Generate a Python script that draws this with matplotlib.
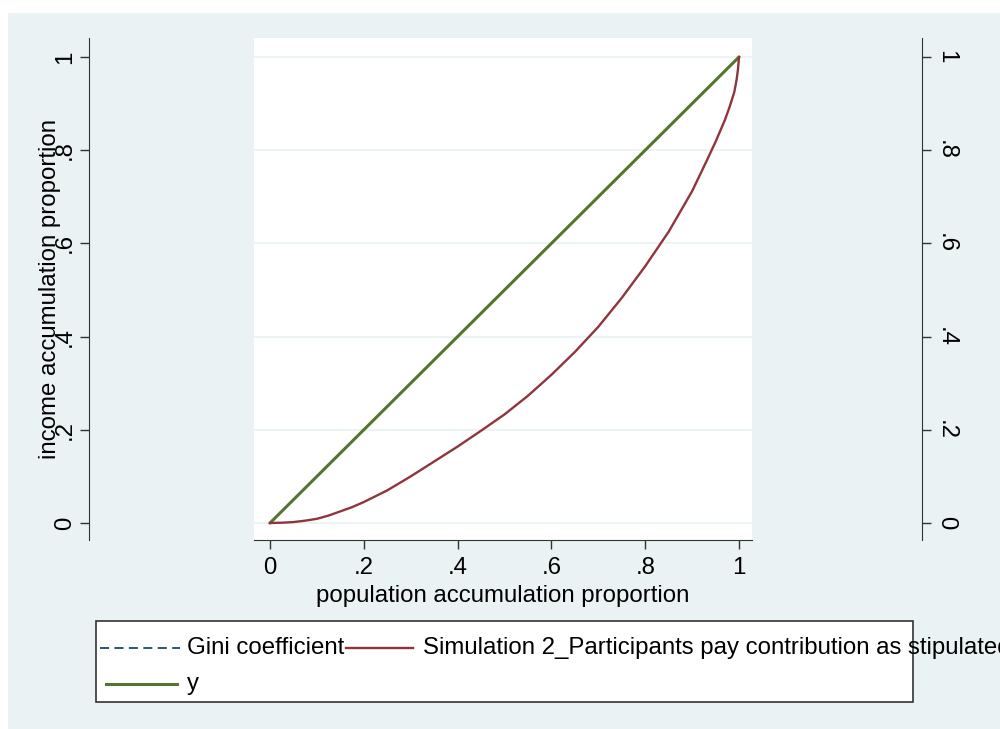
import numpy as np
import matplotlib
matplotlib.use('Agg')
import matplotlib.pyplot as plt
from matplotlib.patches import Rectangle
from matplotlib.lines import Line2D

plt.rcParams['font.family'] = ['Liberation Sans', 'DejaVu Sans']

# Lorenz curve
pop_share = [0, 0.025, 0.05, 0.075, 0.1, 0.125, 0.15, 0.175, 0.2, 0.25, 0.3, 0.35, 0.4, 0.45,
             0.5, 0.55, 0.6, 0.65, 0.7, 0.75, 0.8, 0.85, 0.9, 0.93, 0.95, 0.97, 0.98,
             0.99, 0.995, 0.998, 1.0]
income_share = [0, 0.0006, 0.002, 0.005, 0.009, 0.016, 0.025, 0.034, 0.045, 0.07, 0.10, 0.132,
                0.164, 0.198, 0.233, 0.273, 0.318, 0.367, 0.421, 0.483, 0.551, 0.625, 0.712,
                0.775, 0.818, 0.865, 0.893, 0.925, 0.952, 0.975, 1.0]
# line of equality
eq_x = [0, 1]
eq_y = [0, 1]

ticks = [0, 0.2, 0.4, 0.6, 0.8, 1.0]
tick_labels = ['0', '.2', '.4', '.6', '.8', '1']

legend_labels = ['Gini coefficient',
                 'Simulation 2_Participants pay contribution as stipulated',
                 'y']

BG = '#eaf2f3'
NAVY = '#1a476f'
RED = '#90353b'
GREEN = '#55752f'
AX = '#333333'
FS = 17.3

W, H = 1000, 729
fig = plt.figure(figsize=(W / 100, H / 100), dpi=100, facecolor='white')

def px(x, y):
    # pixel (from top-left) -> figure fraction
    return x / W, 1 - y / H

# stata style graph region
x0, y0 = px(8, 729)
fig.add_artist(Rectangle((x0, y0), 1 - x0, 1 - 13 / H, transform=fig.transFigure,
                         facecolor=BG, edgecolor='none', zorder=0))

l, b = px(254, 540)
r, t = px(752, 38)
ax = fig.add_axes([l, b, r - l, t - b])
ax.set_facecolor('white')

ax.plot(eq_x, eq_y, color=GREEN, lw=2.2, solid_capstyle='round', zorder=3)
ax.plot(pop_share, income_share, color=RED, lw=1.7, zorder=4)

ax.set_xlim(-16 / 469, 1 + 13 / 469)
ax.set_ylim(-17 / 466, 1 + 19 / 466)

ax.set_xticks(ticks)
ax.set_xticklabels(tick_labels)
ax.set_yticks(ticks)
ax.set_yticklabels(tick_labels)
ax.grid(axis='y', color=BG, lw=1.3)
ax.set_axisbelow(True)

ax.spines['top'].set_visible(False)
for s in ['bottom', 'left', 'right']:
    ax.spines[s].set_color(AX)
ax.spines['left'].set_position(('outward', (254 - 89) * 0.72))
ax.spines['right'].set_position(('outward', (922 - 752) * 0.72))

ax.tick_params(axis='x', direction='out', length=6.5, width=1, color=AX,
               labelsize=FS, pad=6)
ax.tick_params(axis='y', direction='out', length=6.5, width=1, color=AX,
               labelsize=FS, pad=3, left=True, right=True, labelleft=True, labelright=True)
for tk in ax.yaxis.get_major_ticks():
    tk.label1.set_rotation(90)
    tk.label1.set_va('center')
    tk.label2.set_rotation(-90)
    tk.label2.set_va('center')

ax.set_xlabel('population accumulation proportion', fontsize=FS, labelpad=4)
ax.text((50 - 254) / 498, 0.5, 'income accumulation proportion', transform=ax.transAxes,
        rotation=90, ha='center', va='center', fontsize=FS)

# legend box (stata places it below, text overflows)
lx0, ly0 = px(96, 702)
lx1, ly1 = px(913, 621)
fig.add_artist(Rectangle((lx0, ly0), lx1 - lx0, ly1 - ly0, transform=fig.transFigure,
                         facecolor='white', edgecolor=AX, lw=1.2, zorder=5))

def leg_line(xa, xb, y, **kw):
    (fa, fy), (fb, _) = px(xa, y), px(xb, y)
    fig.add_artist(Line2D([fa, fb], [fy, fy], transform=fig.transFigure, zorder=6, **kw))

def leg_text(x, y, s):
    fx, fy = px(x, y)
    fig.text(fx, fy, s, ha='left', va='center', fontsize=FS, zorder=7)

leg_line(100, 180, 648, color=NAVY, lw=1.3, dashes=(5, 3))
leg_text(187, 648, legend_labels[0])
leg_line(346, 413, 648, color=RED, lw=1.7)
leg_text(423, 648, legend_labels[1])
leg_line(106, 177, 684, color=GREEN, lw=2.2)
leg_text(187, 684, legend_labels[2])

fig.savefig('out.png', dpi=100, facecolor=fig.get_facecolor())
